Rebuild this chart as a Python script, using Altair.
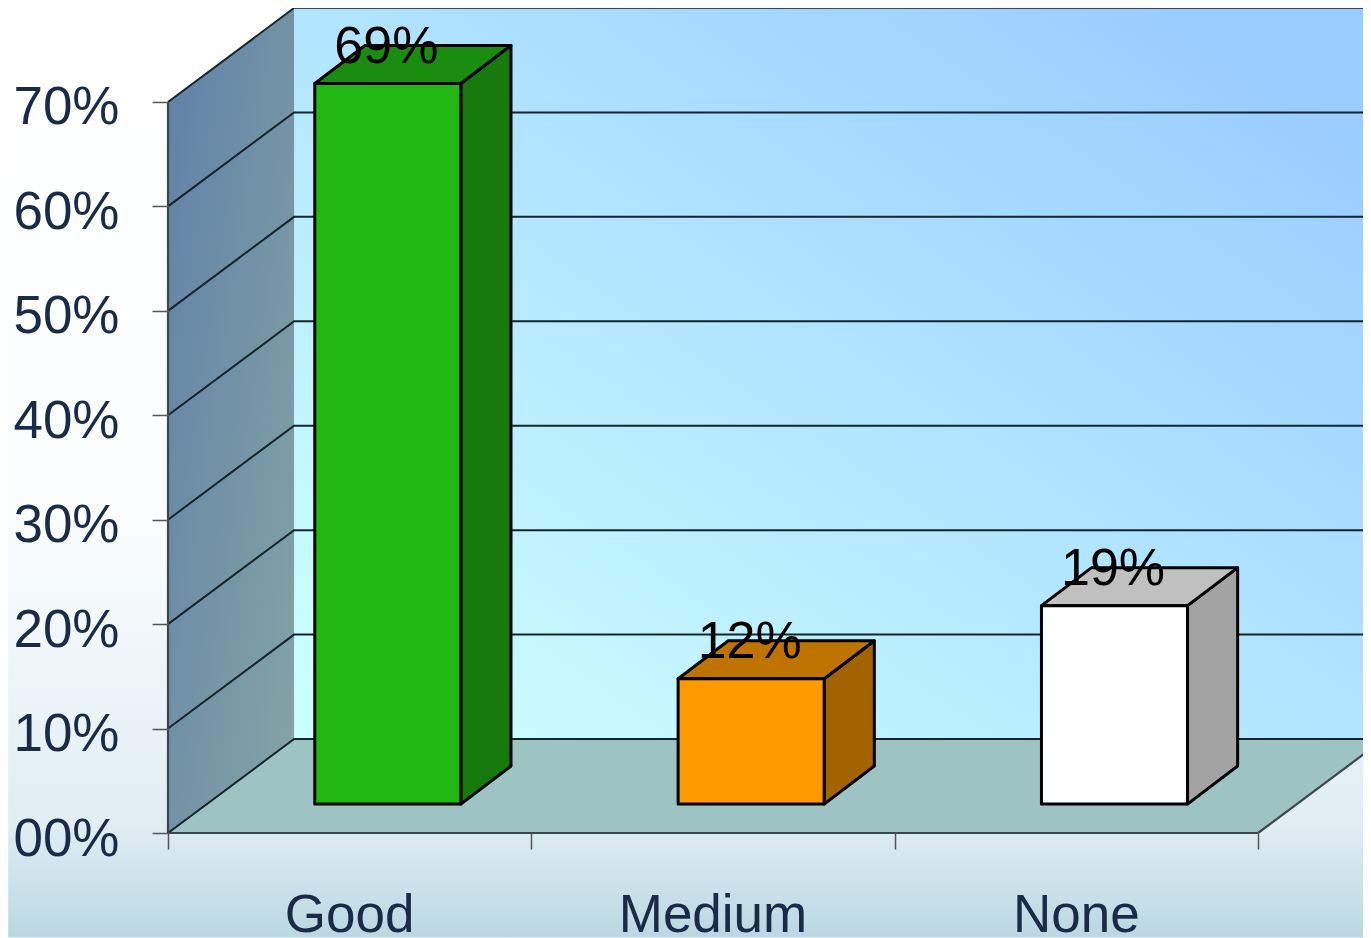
import altair as alt
import pandas as pd

categories = ["Good", "Medium", "None"]
values = [69, 12, 19]
front_colors = ["#22b814", "#ff9900", "#ffffff"]
top_colors = ["#1a8c10", "#c07400", "#c0c0c0"]
side_colors = ["#177a0c", "#a36400", "#a3a3a3"]
levels = [0, 10, 20, 30, 40, 50, 60, 70]

# chart geometry in data units (x: one unit per category, y: percent)
X_MAX, Y_MAX = 3.289, 79.0
X_MIN, Y_MIN = -0.44, -10.0
DEPTH_X, DEPTH_Y = 0.347, 9.0
BAR_L, BAR_R = 0.404, 0.806
BAR_DX, BAR_DY = 0.138, 3.64
BAR_BASE = 2.77
FONT = "Liberation Sans"
INK = "#1a2b48"

xs = alt.Scale(domain=[0, X_MAX], nice=False, zero=False)
ys = alt.Scale(domain=[0, Y_MAX], nice=False, zero=False)


def X(f, **k):
    return alt.X(f"{f}:Q", scale=xs, axis=None, title=None, stack=None, **k)


def Y(f, **k):
    return alt.Y(f"{f}:Q", scale=ys, axis=None, title=None, stack=None, **k)


# page background, carries the real axes
background = alt.Chart(pd.DataFrame({"a": [X_MIN], "b": [X_MAX], "c": [Y_MIN], "d": [Y_MAX]})).mark_rect(
    color=alt.LinearGradient(
        gradient="linear", x1=0, y1=0, x2=0, y2=1,
        stops=[
            alt.GradientStop(offset=0, color="#ffffff"),
            alt.GradientStop(offset=0.55, color="#fbfdfe"),
            alt.GradientStop(offset=0.88, color="#e0edf3"),
            alt.GradientStop(offset=1, color="#b9d8e2"),
        ],
    )
).encode(
    x=alt.X("a:Q", scale=xs, title=None, axis=alt.Axis(
        values=[0, 1, 2, 3], labels=False, domain=False, grid=False,
        tickSize=16, tickColor="#555555", tickWidth=1.5, zindex=1)),
    x2="b:Q",
    y=alt.Y("c:Q", scale=ys, title=None, axis=alt.Axis(
        values=levels, domain=False, grid=False, tickSize=16,
        tickColor="#555555", tickWidth=1.5, zindex=1,
        labelExpr="(datum.value < 10 ? '0' : '') + datum.value + '%'",
        labelFont=FONT, labelFontSize=53, labelColor=INK, labelPadding=33,
        labelOffset=6)),
    y2="d:Q",
)

# back wall
back = alt.Chart(pd.DataFrame({"a": [DEPTH_X], "b": [X_MAX], "c": [DEPTH_Y], "d": [70 + DEPTH_Y]})).mark_rect(
    color=alt.LinearGradient(
        gradient="linear", x1=0, y1=1, x2=1, y2=0,
        stops=[
            alt.GradientStop(offset=0.05, color="#ccffff"),
            alt.GradientStop(offset=0.92, color="#99ccff"),
        ],
    )
).encode(x=X("a"), x2="b:Q", y=Y("c"), y2="d:Q")

# left wall
left = alt.Chart(pd.DataFrame({"x": [0, DEPTH_X], "y": [0, DEPTH_Y], "y2": [70, 70 + DEPTH_Y]})).mark_area(
    color=alt.LinearGradient(
        gradient="linear", x1=0, y1=0, x2=1, y2=1,
        stops=[
            alt.GradientStop(offset=0, color="#5f80a8"),
            alt.GradientStop(offset=1, color="#85a5a5"),
        ],
    )
).encode(x=X("x"), y=Y("y"), y2="y2:Q")

# floor
floor = alt.Chart(pd.DataFrame({"y": [0, DEPTH_Y], "x": [0, DEPTH_X], "x2": [3, 3 + DEPTH_X]})).mark_area(
    orient="horizontal", color="#9dc3c3"
).encode(y=Y("y"), x=X("x"), x2="x2:Q")

# grid lines, running from the front edge over the side wall on to the back wall
grid_rows = []
for lv in levels:
    grid_rows += [
        {"lv": lv, "o": 0, "x": 0, "y": lv},
        {"lv": lv, "o": 1, "x": DEPTH_X, "y": lv + DEPTH_Y},
    ]
    if lv < 70:
        grid_rows.append({"lv": lv, "o": 2, "x": X_MAX, "y": lv + DEPTH_Y})
grid = alt.Chart(pd.DataFrame(grid_rows)).mark_line(color="#16242c", strokeWidth=2).encode(
    x=X("x"), y=Y("y"), detail="lv:N", order="o:Q"
)

# floor edges and left edge of the wall
edge_rows = [
    {"e": 0, "o": 0, "x": 3, "y": 0},
    {"e": 0, "o": 1, "x": 0, "y": 0},
    {"e": 1, "o": 0, "x": 0, "y": 0},
    {"e": 1, "o": 1, "x": 0, "y": 70},
    {"e": 2, "o": 0, "x": 3, "y": 0},
    {"e": 2, "o": 1, "x": 3 + DEPTH_X, "y": DEPTH_Y},
    {"e": 3, "o": 0, "x": DEPTH_X, "y": DEPTH_Y + 70},
    {"e": 3, "o": 1, "x": X_MAX, "y": DEPTH_Y + 70},
]
edges = alt.Chart(pd.DataFrame(edge_rows)).mark_line(color="#3a474c", strokeWidth=2.2).encode(
    x=X("x"), y=Y("y"), detail="e:N", order="o:Q"
)

# bars
front_rows, side_rows, top_rows, label_rows = [], [], [], []
for i, (c, v) in enumerate(zip(categories, values)):
    l, r = i + BAR_L, i + BAR_R
    t = BAR_BASE + v
    front_rows.append({"x": l, "x2": r, "y": BAR_BASE, "y2": t, "c": front_colors[i]})
    side_rows += [
        {"b": c, "x": r, "y": BAR_BASE, "y2": t, "c": side_colors[i]},
        {"b": c, "x": r + BAR_DX, "y": BAR_BASE + BAR_DY, "y2": t + BAR_DY, "c": side_colors[i]},
    ]
    top_rows += [
        {"b": c, "y": t, "x": l, "x2": r, "c": top_colors[i]},
        {"b": c, "y": t + BAR_DY, "x": l + BAR_DX, "x2": r + BAR_DX, "c": top_colors[i]},
    ]
    label_rows.append({"x": (l + r) / 2 - 0.004, "y": t + 3.5, "t": f"{v}%"})

color = alt.Color("c:N", scale=None, legend=None)
side = alt.Chart(pd.DataFrame(side_rows)).mark_area(stroke="black", strokeWidth=3, strokeJoin="round").encode(
    x=X("x"), y=Y("y"), y2="y2:Q", color=color, detail="b:N"
)
top = alt.Chart(pd.DataFrame(top_rows)).mark_area(orient="horizontal", stroke="black", strokeWidth=3, strokeJoin="round").encode(
    y=Y("y"), x=X("x"), x2="x2:Q", color=color, detail="b:N"
)
front = alt.Chart(pd.DataFrame(front_rows)).mark_rect(stroke="black", strokeWidth=3, strokeJoin="round").encode(
    x=X("x"), x2="x2:Q", y=Y("y"), y2="y2:Q", color=color
)
labels = alt.Chart(pd.DataFrame(label_rows)).mark_text(
    font=FONT, fontSize=52, color="black", baseline="middle", align="center"
).encode(x=X("x"), y=Y("y"), text="t:N")

cat_labels = alt.Chart(pd.DataFrame({"x": [0.5, 1.5, 2.5], "y": [-7.9] * 3, "t": categories})).mark_text(
    font=FONT, fontSize=53, color=INK, baseline="middle", align="center"
).encode(x=X("x"), y=Y("y"), text="t:N")

chart = alt.layer(
    background, back, left, floor, grid, edges, side, top, front, labels, cat_labels
).resolve_axis(x="independent", y="independent").properties(
    width=1195,
    height=825,
    padding={"left": 160, "top": 0, "right": 0, "bottom": 105},
    autosize="none",
).configure_view(stroke=None)

chart.save("out.html", embed_options={"renderer": "svg", "actions": False})
